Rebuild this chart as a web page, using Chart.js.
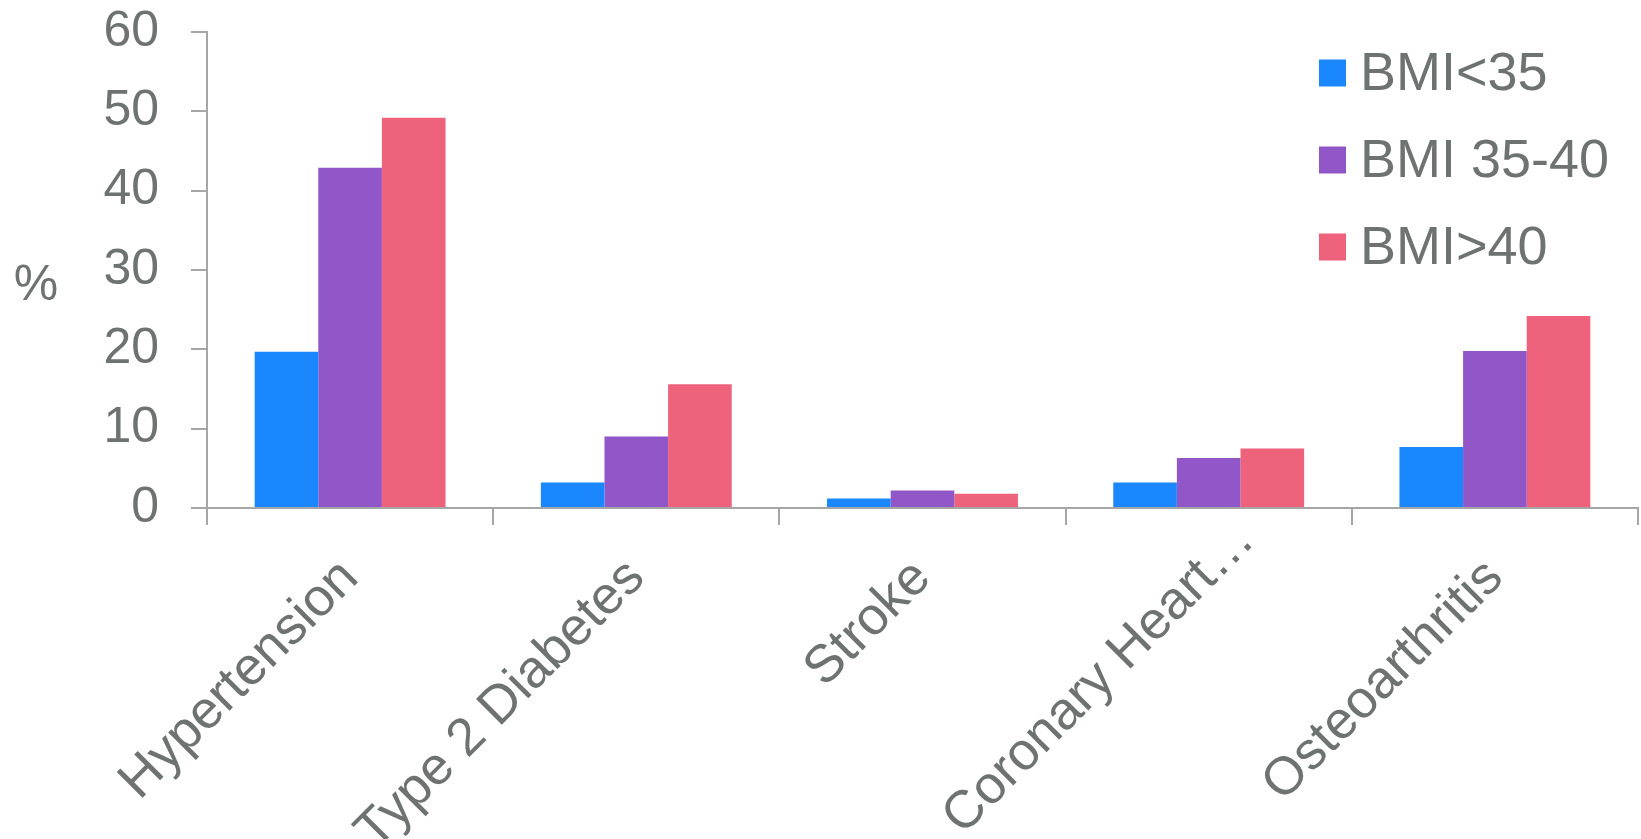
<!DOCTYPE html>
<html>
<head>
<meta charset="utf-8">
<title>Comorbidity prevalence by BMI group</title>
<script src="https://cdn.jsdelivr.net/npm/chart.js@4.4.1/dist/chart.umd.min.js"></script>
<style>
  html, body { margin: 0; padding: 0; background: #ffffff; overflow: hidden; }
  #wrap { position: relative; width: 1641px; height: 839px; }
</style>
</head>
<body>
<div id="wrap"><canvas id="chart"></canvas></div>
<script>
// Conditions on the x axis
const categories = ['Hypertension', 'Type 2 Diabetes', 'Stroke', 'Coronary Heart\u2026', 'Osteoarthritis'];

// Prevalence (%) per BMI group
const bmiUnder35 = [19.7, 3.2, 1.2, 3.2, 7.7];
const bmi35to40  = [42.9, 9.0, 2.2, 6.3, 19.8];
const bmiOver40  = [49.2, 15.6, 1.8, 7.5, 24.2];

const seriesNames = ['BMI<35', 'BMI 35-40', 'BMI>40'];
const yTicks = [0, 10, 20, 30, 40, 50, 60];

const TEXT = '#6e7271';
const AXIS = '#a6a6a6';
const FONT = "'Liberation Sans', Arial, sans-serif";
const X_FONT_SIZE = 53;

// Plot frame: value axis at x=207, top at y=32, baseline at y=508
const PLOT_LEFT = 207;
const PLOT_TOP = 32;
const PLOT_BOTTOM = 508;
const CANVAS_H = 839;

// "%" written upright beside the value axis
const unitLabel = {
  id: 'unitLabel',
  afterDraw(chart) {
    const { ctx, chartArea } = chart;
    ctx.save();
    ctx.fillStyle = TEXT;
    ctx.font = '50px ' + FONT;
    ctx.textAlign = 'center';
    ctx.textBaseline = 'middle';
    ctx.fillText('%', 36, (chartArea.top + chartArea.bottom) / 2 + 16);
    ctx.restore();
  }
};

// A truncated category name keeps its text ending at the tick,
// with the trailing ellipsis running past it.
const ellipsisOverhang = {
  id: 'ellipsisOverhang',
  beforeDraw(chart) {
    const scale = chart.scales.x;
    const items = scale.getLabelItems();
    const ctx = chart.ctx;
    ctx.save();
    ctx.font = X_FONT_SIZE + 'px ' + FONT;
    const w = ctx.measureText('\u2026').width;
    ctx.restore();
    items.forEach(item => {
      if (typeof item.label === 'string' && item.label.endsWith('\u2026') && !item._shifted) {
        const d = w * Math.SQRT1_2;
        const [tx, ty] = item.options.translation;
        item.options.translation = [tx + d, ty - d];
        item._shifted = true;
      }
    });
  }
};

// Vertical legend in the upper-right corner of the plot
const cornerLegend = {
  id: 'cornerLegend',
  afterDraw(chart) {
    const { ctx } = chart;
    const box = 27, x = 1319, textX = 1360, y0 = 73, step = 87;
    ctx.save();
    ctx.font = '54px ' + FONT;
    ctx.textBaseline = 'middle';
    ctx.textAlign = 'left';
    chart.data.datasets.forEach((ds, i) => {
      const cy = y0 + i * step;
      ctx.fillStyle = ds.backgroundColor;
      ctx.fillRect(x, cy - box / 2, box, box);
      ctx.fillStyle = TEXT;
      ctx.fillText(ds.label, textX, cy + 2);
    });
    ctx.restore();
  }
};

const colors = ['#1b87ff', '#9157c8', '#ee627c'];
const values = [bmiUnder35, bmi35to40, bmiOver40];

new Chart(document.getElementById('chart'), {
  type: 'bar',
  data: {
    labels: categories,
    datasets: seriesNames.map((name, i) => ({
      label: name,
      data: values[i],
      backgroundColor: colors[i],
      borderWidth: 0,
      categoryPercentage: 0.667,
      barPercentage: 1.0
    }))
  },
  options: {
    responsive: true,
    maintainAspectRatio: false,
    animation: false,
    layout: { padding: { top: 0, right: 3, left: 0, bottom: 0 } },
    plugins: {
      legend: { display: false },
      tooltip: { enabled: false }
    },
    scales: {
      x: {
        grid: {
          display: true,
          drawOnChartArea: false,
          drawTicks: true,
          tickLength: 17,
          color: AXIS,
          lineWidth: 2,
          offset: true
        },
        border: { display: true, color: AXIS, width: 2 },
        ticks: {
          color: TEXT,
          font: { family: FONT, size: X_FONT_SIZE },
          maxRotation: 45,
          minRotation: 45,
          autoSkip: false,
          padding: 22
        },
        // long category names run past the bottom edge
        afterFit(scale) {
          scale.height = CANVAS_H - PLOT_BOTTOM;
          scale.paddingLeft = 0;
          scale.paddingRight = 0;
        }
      },
      y: {
        min: 0,
        max: 60,
        afterBuildTicks(scale) { scale.ticks = yTicks.map(v => ({ value: v })); },
        grid: {
          display: true,
          drawOnChartArea: false,
          drawTicks: true,
          tickLength: 16,
          color: AXIS,
          lineWidth: 2
        },
        border: { display: true, color: AXIS, width: 2 },
        ticks: {
          color: TEXT,
          font: { family: FONT, size: 50 },
          padding: 32
        },
        afterFit(scale) {
          scale.width = PLOT_LEFT;
          scale.paddingTop = PLOT_TOP;
          scale.paddingBottom = 0;
        }
      }
    }
  },
  plugins: [unitLabel, ellipsisOverhang, cornerLegend]
});
</script>
</body>
</html>
